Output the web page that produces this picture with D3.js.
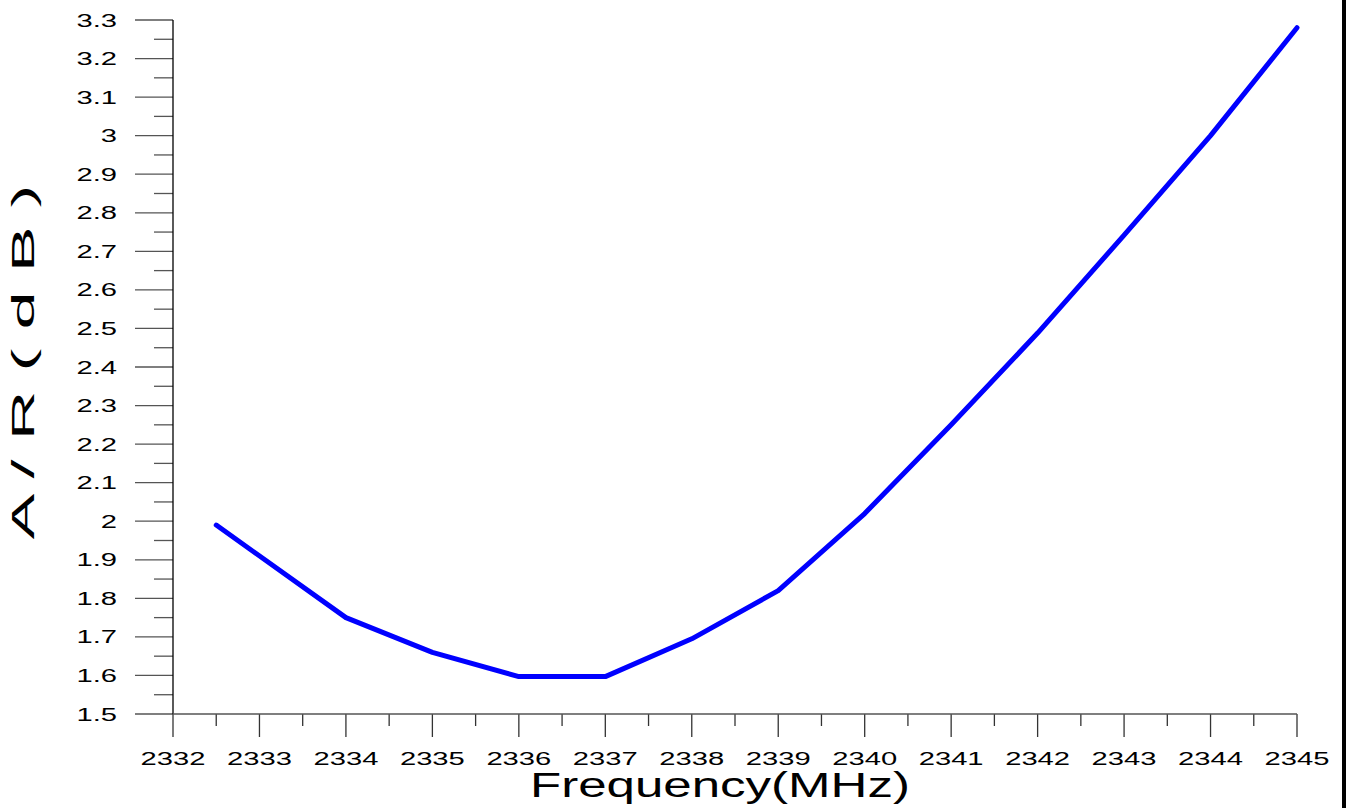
<!DOCTYPE html>
<html><head><meta charset="utf-8">
<script src="https://cdn.jsdelivr.net/npm/d3@7"></script>
<style>
html,body{margin:0;padding:0;background:#fff;}
svg{display:block;}
text{font-family:"Liberation Sans",Arial,sans-serif;fill:#000;}
</style></head>
<body>
<svg id="c" width="1346" height="808"></svg>
<script>
const freq = [2332.5, 2334, 2335, 2336, 2337, 2338, 2339, 2340, 2341, 2342, 2343, 2344, 2345];
const ar   = [1.99, 1.75, 1.66, 1.597, 1.597, 1.695, 1.82, 2.02, 2.25, 2.488, 2.742, 3.0, 3.28];
const xTicks = [2332,2333,2334,2335,2336,2337,2338,2339,2340,2341,2342,2343,2344,2345];
const yTicks = [1.5,1.6,1.7,1.8,1.9,2,2.1,2.2,2.3,2.4,2.5,2.6,2.7,2.8,2.9,3,3.1,3.2,3.3];
const xTitle = "Frequency(MHz)";
const yTitle = "A / R ( d B )";

const svg = d3.select("#c");
const x = d3.scaleLinear().domain([2332, 2345]).range([173, 1297]);
const y = d3.scaleLinear().domain([1.5, 3.3]).range([714, 20]);
const stretch = 1.62;

function stretchText(sel, k){
  sel.each(function(){
    const w = this.getComputedTextLength();
    d3.select(this).attr("textLength", w*k).attr("lengthAdjust","spacingAndGlyphs");
  });
}

// minor y ticks
const yMinor = d3.range(0, 18).map(i => 1.55 + i*0.1);
svg.append("g").selectAll("line").data(yMinor).join("line")
  .attr("x1",154).attr("x2",173).attr("y1",d=>y(d)).attr("y2",d=>y(d))
  .attr("stroke","#555").attr("stroke-width",1.3);
// major y ticks
svg.append("g").selectAll("line").data(yTicks).join("line")
  .attr("x1",135).attr("x2",173).attr("y1",d=>y(d)).attr("y2",d=>y(d))
  .attr("stroke","#555").attr("stroke-width",1.3);
// y labels
svg.append("g").selectAll("text").data(yTicks).join("text")
  .attr("x",117).attr("y",d=>y(d)+6.5).attr("text-anchor","end")
  .attr("font-size",18).text(d=>d3.format("~g")(d))
  .call(stretchText, stretch);

// minor x ticks
const xMinor = d3.range(0, 13).map(i => 2332.5 + i);
svg.append("g").selectAll("line").data(xMinor).join("line")
  .attr("x1",d=>x(d)).attr("x2",d=>x(d)).attr("y1",714).attr("y2",726)
  .attr("stroke","#333").attr("stroke-width",1.3);
svg.append("g").selectAll("line").data(xTicks).join("line")
  .attr("x1",d=>x(d)).attr("x2",d=>x(d)).attr("y1",714).attr("y2",737)
  .attr("stroke","#333").attr("stroke-width",1.3);
svg.append("g").selectAll("text").data(xTicks).join("text")
  .attr("x",d=>x(d)).attr("y",765).attr("text-anchor","middle")
  .attr("font-size",18).text(d=>d)
  .call(stretchText, stretch);

// axis lines
svg.append("line").attr("x1",173).attr("x2",173).attr("y1",20).attr("y2",714)
  .attr("stroke","#000").attr("stroke-width",1.3);
svg.append("line").attr("x1",173).attr("x2",1297).attr("y1",714).attr("y2",714)
  .attr("stroke","#555").attr("stroke-width",1.3);

// data line
const line = d3.line().x((d,i)=>x(freq[i])).y(d=>y(d));
svg.append("path").datum(ar).attr("d",line)
  .attr("fill","none").attr("stroke","#0000ff").attr("stroke-width",5)
  .attr("stroke-linecap","round").attr("stroke-linejoin","round");

// titles
svg.append("text").attr("x",720).attr("y",797).attr("text-anchor","middle")
  .attr("font-size",35).text(xTitle)
  .attr("textLength",380).attr("lengthAdjust","spacingAndGlyphs");
svg.append("text").attr("transform","translate(34,362) rotate(-90)")
  .attr("text-anchor","middle").attr("font-size",32).text(yTitle)
  .attr("textLength",355).attr("lengthAdjust","spacingAndGlyphs");

// right edge bar
svg.append("rect").attr("x",1342).attr("y",0).attr("width",4).attr("height",808).attr("fill","#000");
</script>
</body></html>
